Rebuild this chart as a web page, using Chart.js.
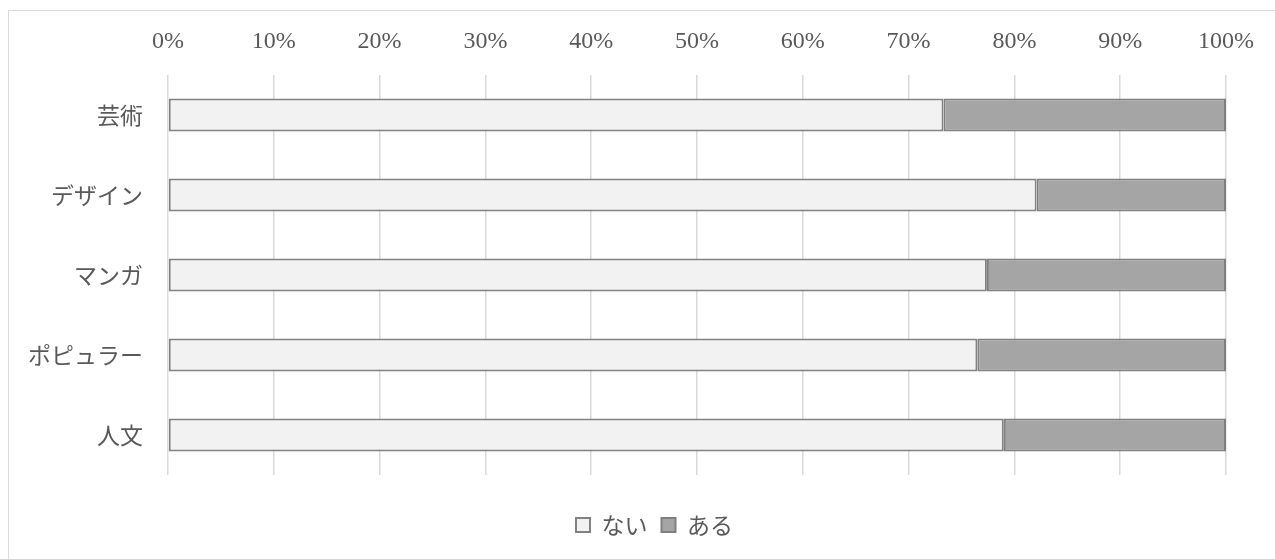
<!DOCTYPE html>
<html>
<head>
<meta charset="utf-8">
<script src="https://cdn.jsdelivr.net/npm/chart.js@4.4.1/dist/chart.umd.min.js"></script>
<style>
  html, body { margin: 0; padding: 0; background: #ffffff; overflow: hidden; width: 1275px; height: 559px; }
  #frame { position: absolute; left: 8px; top: 10px; width: 1320px; height: 600px; border: 1.5px solid #d9d9d9; box-sizing: border-box; }
  #wrap { position: absolute; left: 0; top: 0; width: 1289px; height: 559px; }
</style>
</head>
<body>
<div id="frame"></div>
<div id="wrap"><canvas id="c" width="1289" height="559"></canvas></div>
<script>
const categories = ['芸術', 'デザイン', 'マンガ', 'ポピュラー', '人文'];
const seriesNames = ['ない', 'ある'];
const naiValues = [73.3, 82.1, 77.4, 76.5, 79.0];
const aruValues = [26.7, 17.9, 22.6, 23.5, 21.0];
const tickValues = [0, 10, 20, 30, 40, 50, 60, 70, 80, 90, 100];

const textColor = '#595959';
const serif = "'Liberation Serif', 'Times New Roman', serif";
const sans = "'Noto Sans CJK JP', 'Noto Sans', sans-serif";

new Chart(document.getElementById('c'), {
  type: 'bar',
  data: {
    labels: categories,
    datasets: [
      { label: seriesNames[0], data: naiValues, backgroundColor: '#f2f2f2', borderColor: '#828282', borderWidth: 2, borderSkipped: false, categoryPercentage: 1.0, barPercentage: 0.4125 },
      { label: seriesNames[1], data: aruValues, backgroundColor: '#a5a5a5', borderColor: '#7f7f7f', borderWidth: 2, borderSkipped: false, categoryPercentage: 1.0, barPercentage: 0.4125 }
    ]
  },
  options: {
    indexAxis: 'y',
    responsive: false,
    animation: false,
    devicePixelRatio: 1,
    layout: { padding: { left: 20, right: 0, top: 0, bottom: 12.5 } },
    plugins: {
      tooltip: { enabled: false },
      legend: {
        position: 'bottom',
        fullSize: true,
        labels: {
          boxWidth: 14, boxHeight: 14, padding: 14,
          color: textColor,
          font: { family: sans, size: 23 }
        }
      }
    },
    scales: {
      x: {
        position: 'top',
        stacked: true,
        min: 0, max: 100,
        afterBuildTicks: (s) => { s.ticks = tickValues.map(v => ({ value: v })); },
        afterFit: (s) => { s.height = 75; },
        grid: { color: '#d9d9d9', lineWidth: 1.5, drawTicks: false },
        border: { display: false },
        ticks: {
          padding: 19,
          color: textColor,
          font: { family: serif, size: 24 },
          callback: (v) => v + '%'
        }
      },
      y: {
        stacked: true,
        afterFit: (s) => { s.width = 148; },
        grid: { display: false, drawTicks: false },
        border: { display: false },
        ticks: {
          padding: 25,
          color: textColor,
          font: { family: sans, size: 23 }
        }
      },
      yR: {
        type: 'linear',
        position: 'right',
        display: true,
        afterFit: (s) => { s.width = 63; },
        grid: { display: false, drawTicks: false },
        border: { display: false },
        ticks: { display: false }
      },
      xB: {
        type: 'linear',
        position: 'bottom',
        display: true,
        afterFit: (s) => { s.height = 24.5; },
        grid: { display: false, drawTicks: false },
        border: { display: false },
        ticks: { display: false }
      }
    }
  }
});
</script>
</body>
</html>
